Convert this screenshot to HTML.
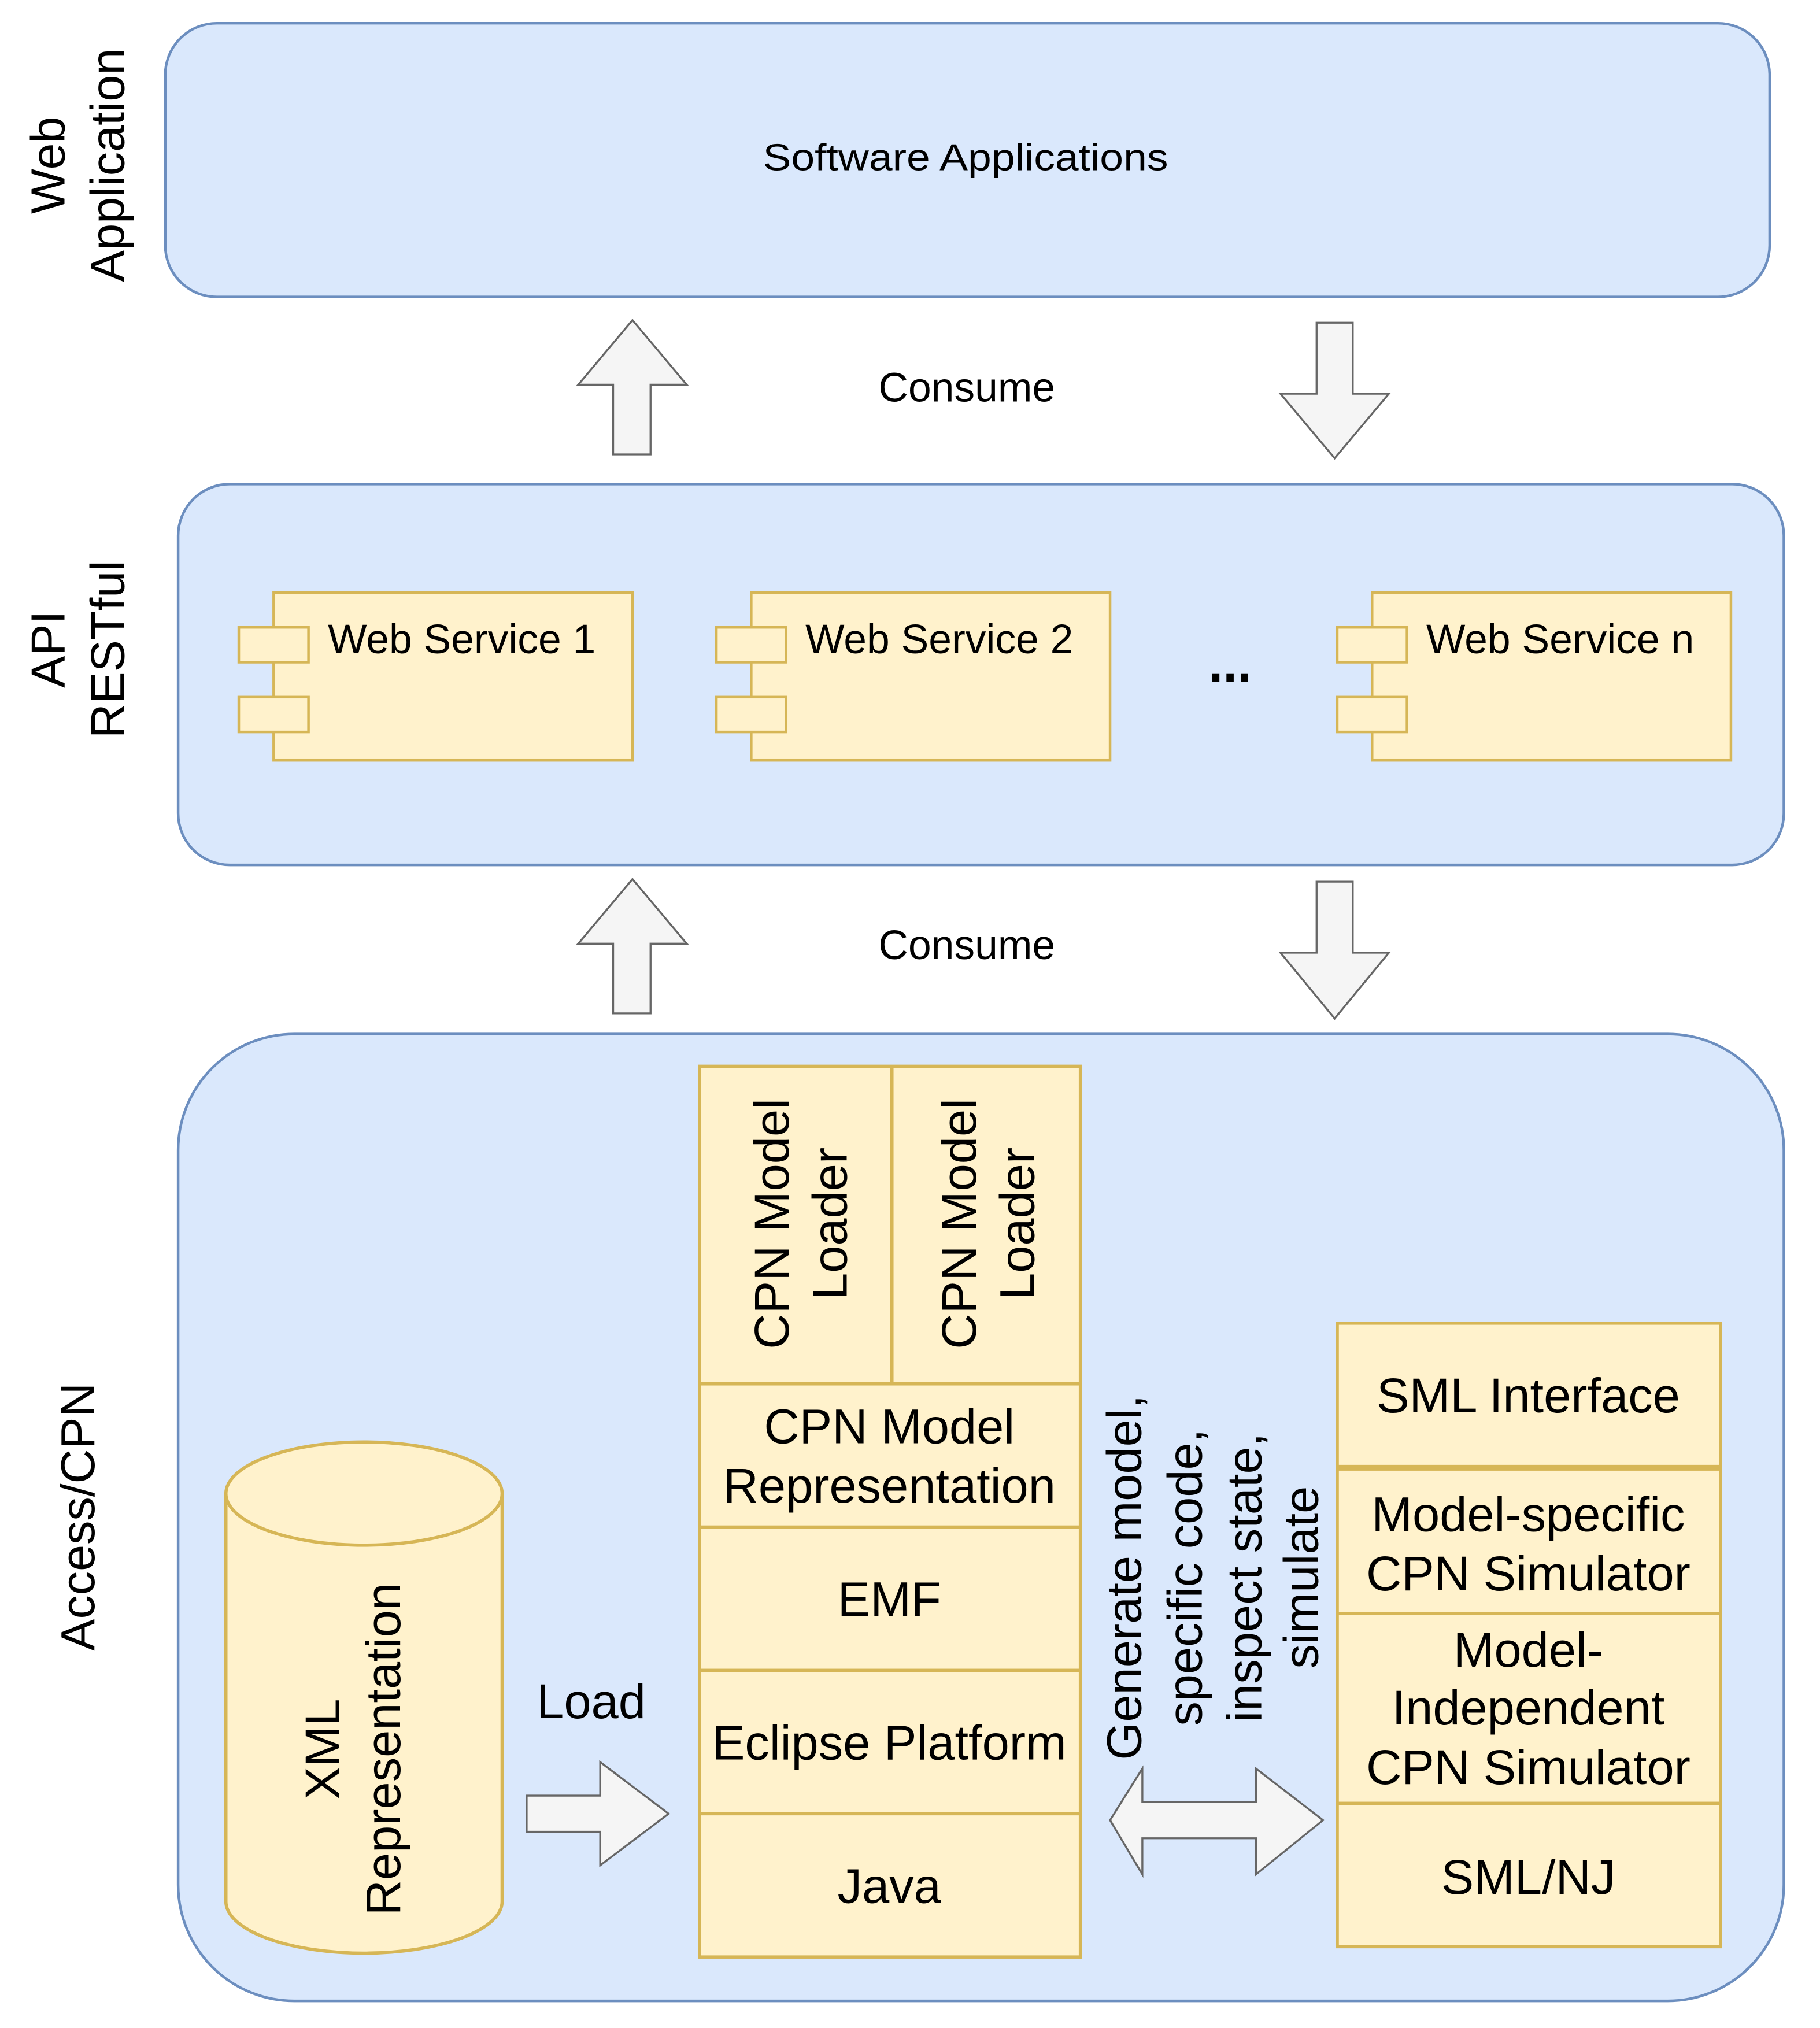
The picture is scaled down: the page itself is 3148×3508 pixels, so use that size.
<!DOCTYPE html>
<html><head><meta charset="utf-8"><style>html,body{margin:0;padding:0;background:#fff}svg{display:block}</style></head>
<body>
<svg width="3148" height="3508" viewBox="0 0 1410 1571" preserveAspectRatio="none" xmlns="http://www.w3.org/2000/svg" font-family="Liberation Sans, sans-serif" fill="#000">
<g stroke="#6c8ebf" stroke-width="2" fill="#dae8fc">
<rect x="128" y="18" width="1243" height="212" rx="40"/>
<rect x="138" y="375" width="1244" height="295" rx="40"/>
<rect x="138" y="801" width="1244" height="749" rx="90"/>
</g>
<text x="748" y="132" font-size="29" text-anchor="middle" textLength="314" lengthAdjust="spacingAndGlyphs">Software Applications</text>
<g font-size="37" text-anchor="middle">
<text transform="translate(50,128) rotate(-90)">Web</text>
<text transform="translate(96,128) rotate(-90)">Application</text>
<text transform="translate(50,503) rotate(-90)">API</text>
<text transform="translate(96,503) rotate(-90)">RESTful</text>
<text transform="translate(73,1175) rotate(-90)">Access/CPN</text>
</g>
<g fill="#f5f5f5" stroke="#666" stroke-width="1.5">
<polygon points="490,248 532,298 504,298 504,352 475,352 475,298 448,298"/>
<polygon points="1020,250 1048,250 1048,305 1076,305 1034,355 992,305 1020,305"/>
<polygon points="490,681 532,731 504,731 504,785 475,785 475,731 448,731"/>
<polygon points="1020,683 1048,683 1048,738 1076,738 1034,789 992,738 1020,738"/>
<polygon points="408,1391 465,1391 465,1365 518,1405 465,1445 465,1419 408,1419"/>
<polygon points="860,1410 885,1370 885,1396 973,1396 973,1370 1025,1410 973,1452 973,1424 885,1424 885,1452"/>
</g>
<g font-size="32" text-anchor="middle">
<text x="749" y="311">Consume</text>
<text x="749" y="743">Consume</text>
</g>
<g fill="#fff2cc" stroke="#d6b656" stroke-width="2">
<rect x="212" y="459" width="278" height="130"/>
<rect x="185" y="486" width="54" height="27"/>
<rect x="185" y="540" width="54" height="27"/>
<rect x="582" y="459" width="278" height="130"/>
<rect x="555" y="486" width="54" height="27"/>
<rect x="555" y="540" width="54" height="27"/>
<rect x="1063" y="459" width="278" height="130"/>
<rect x="1036" y="486" width="54" height="27"/>
<rect x="1036" y="540" width="54" height="27"/>
</g>
<g font-size="32">
<text x="254" y="506">Web Service 1</text>
<text x="624" y="506">Web Service 2</text>
<text x="1105" y="506">Web Service n</text>
</g>
<text x="953" y="528" font-size="40" font-weight="bold" text-anchor="middle">...</text>
<g fill="#fff2cc" stroke="#d6b656" stroke-width="2.5">
<path d="M175,1157 L175,1473 A107,40 0 0 0 389,1473 L389,1157"/>
<ellipse cx="282" cy="1157" rx="107" ry="40"/>
<rect x="542" y="826" width="295" height="246"/>
<line x1="691" y1="826" x2="691" y2="1072"/>
<rect x="542" y="1072" width="295" height="111"/>
<rect x="542" y="1183" width="295" height="111"/>
<rect x="542" y="1294" width="295" height="111"/>
<rect x="542" y="1405" width="295" height="111"/>
<rect x="1036" y="1025" width="297" height="111"/>
<rect x="1036" y="1138" width="297" height="112"/>
<rect x="1036" y="1250" width="297" height="147"/>
<rect x="1036" y="1397" width="297" height="111"/>
</g>
<g font-size="38" text-anchor="middle">
<text transform="translate(263,1355) rotate(-90)">XML</text>
<text transform="translate(310,1355) rotate(-90)">Representation</text>
<text transform="translate(611,948) rotate(-90)">CPN Model</text>
<text transform="translate(656,948) rotate(-90)">Loader</text>
<text transform="translate(756,948) rotate(-90)">CPN Model</text>
<text transform="translate(801,948) rotate(-90)">Loader</text>
<text x="458" y="1331">Load</text>
<text x="689" y="1118">CPN Model</text>
<text x="689" y="1164">Representation</text>
<text x="689" y="1252">EMF</text>
<text x="689" y="1363">Eclipse Platform</text>
<text x="689" y="1474">Java</text>
<text x="1184" y="1094">SML Interface</text>
<text x="1184" y="1186">Model-specific</text>
<text x="1184" y="1232">CPN Simulator</text>
<text x="1184" y="1291">Model-</text>
<text x="1184" y="1336">Independent</text>
<text x="1184" y="1382">CPN Simulator</text>
<text x="1184" y="1467">SML/NJ</text>
<text transform="translate(884,1222) rotate(-90)">Generate model,</text>
<text transform="translate(931,1222) rotate(-90)">specific code,</text>
<text transform="translate(977,1222) rotate(-90)">inspect state,</text>
<text transform="translate(1021,1222) rotate(-90)">simulate</text>
</g>
</svg>
</body></html>
